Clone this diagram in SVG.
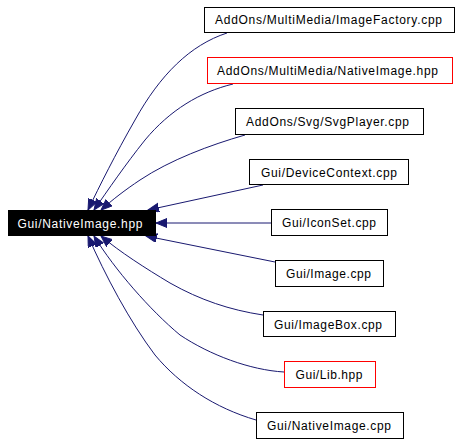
<svg xmlns="http://www.w3.org/2000/svg" width="461" height="445" viewBox="0 0 461 445">
<style>
.node rect{fill:#ffffff;stroke:#000000;stroke-width:1}
.node.red rect{stroke:#ff0000}
.node text{font-family:"Liberation Sans",Arial,sans-serif;font-size:12px;fill:#000000;text-anchor:middle}
#n_main rect{fill:#000000;stroke:#000000}
#n_main text{fill:#ffffff}
.edges path{fill:none;stroke:#191970;stroke-width:1;marker-end:url(#arr)}
</style>
<defs>
<marker id="arr" markerUnits="userSpaceOnUse" markerWidth="12" markerHeight="10" refX="11" refY="4.5" orient="auto">
<path d="M0,0 L11,4.5 L0,9 z" fill="#191970" stroke="#191970" stroke-width="1"/>
</marker>
</defs>
<rect width="461" height="445" fill="#ffffff"/>
<g class="edges">
<path d="M227,33 C190,45 160,75 135,120 C115,155 100,185 88,210"/>
<path d="M233,84 C200,92 170,110 145,140 C125,165 108,190 94,210"/>
<path d="M245,135 C210,145 170,160 140,180 C125,190 112,200 101,210"/>
<path d="M263,185 L148,210"/>
<path d="M271,223 L156,223"/>
<path d="M275,262 L146,236"/>
<path d="M263,315 C230,310 200,300 170,283 C145,268 120,252 101,236"/>
<path d="M284,372 C250,370 210,355 180,335 C150,310 115,270 94,236"/>
<path d="M256,420 C215,408 180,385 155,355 C130,322 105,275 88,236"/>
</g>
<g id="n_main" class="node"><rect x="8.5" y="210.5" width="147" height="25"/><text x="80" y="227.5" textLength="125" lengthAdjust="spacing">Gui/NativeImage.hpp</text></g>
<g id="n_imagefactory" class="node"><rect x="204.5" y="7.5" width="250" height="25"/><text x="328.5" y="24" textLength="227" lengthAdjust="spacing">AddOns/MultiMedia/ImageFactory.cpp</text></g>
<g id="n_mm_nativeimage" class="node red"><rect x="207.5" y="57.5" width="245" height="26"/><text x="327.5" y="75" textLength="221" lengthAdjust="spacing">AddOns/MultiMedia/NativeImage.hpp</text></g>
<g id="n_svgplayer" class="node"><rect x="235.5" y="108.5" width="188" height="26"/><text x="327.5" y="126" textLength="163" lengthAdjust="spacing">AddOns/Svg/SvgPlayer.cpp</text></g>
<g id="n_devicecontext" class="node"><rect x="249.5" y="159.5" width="159" height="25"/><text x="329" y="176.5" textLength="136" lengthAdjust="spacing">Gui/DeviceContext.cpp</text></g>
<g id="n_iconset" class="node"><rect x="271.5" y="209.5" width="116" height="26"/><text x="329" y="227" textLength="94" lengthAdjust="spacing">Gui/IconSet.cpp</text></g>
<g id="n_image" class="node"><rect x="275.5" y="260.5" width="108" height="26"/><text x="328.5" y="278" textLength="85" lengthAdjust="spacing">Gui/Image.cpp</text></g>
<g id="n_imagebox" class="node"><rect x="263.5" y="311.5" width="132" height="25"/><text x="328" y="328.5" textLength="108" lengthAdjust="spacing">Gui/ImageBox.cpp</text></g>
<g id="n_lib" class="node red"><rect x="284.5" y="361.5" width="91" height="26"/><text x="329" y="379" textLength="67" lengthAdjust="spacing">Gui/Lib.hpp</text></g>
<g id="n_nativeimagecpp" class="node"><rect x="256.5" y="412.5" width="147" height="26"/><text x="329" y="430" textLength="124" lengthAdjust="spacing">Gui/NativeImage.cpp</text></g>
</svg>
